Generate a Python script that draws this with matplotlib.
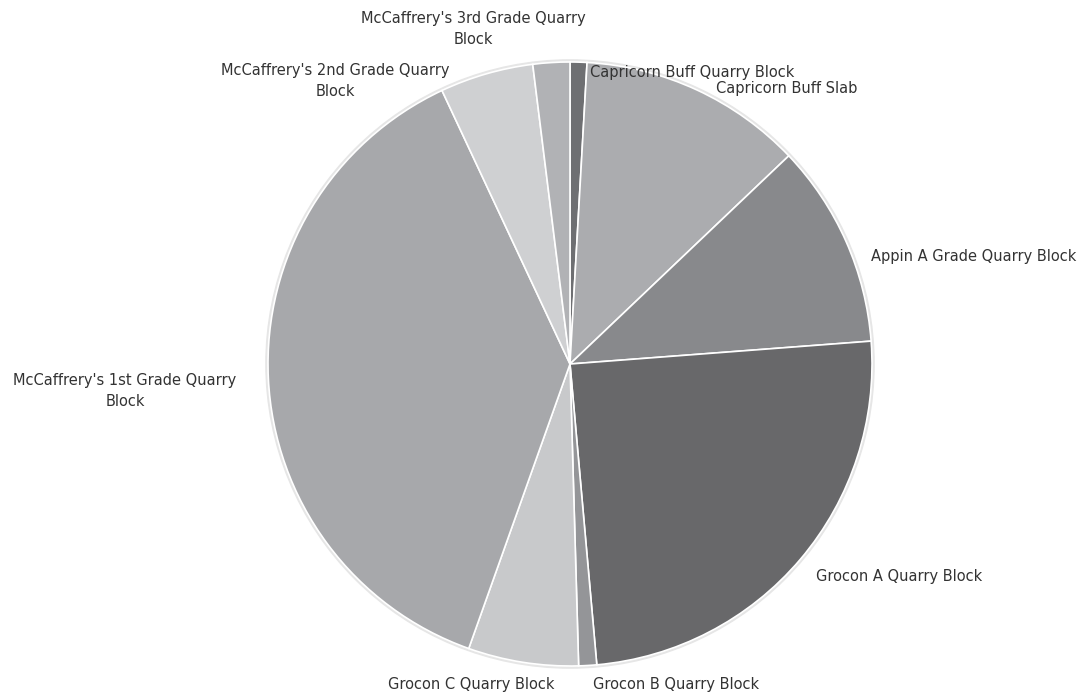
import matplotlib
matplotlib.use("Agg")
import matplotlib.pyplot as plt
from matplotlib.patches import Circle

labels = ["Capricorn Buff Quarry Block", "Capricorn Buff Slab", "Appin A Grade Quarry Block",
          "Grocon A Quarry Block", "Grocon B Quarry Block", "Grocon C Quarry Block",
          "McCaffrery's 1st Grade Quarry\nBlock", "McCaffrery's 2nd Grade Quarry\nBlock",
          "McCaffrery's 3rd Grade Quarry\nBlock"]
values = [0.9, 12.0, 10.9, 24.8, 0.96, 5.9, 37.6, 5.0, 1.97]
colors = ["#6e6f72", "#abacaf", "#88898c", "#68686a", "#949598", "#c8c9cb",
          "#a7a8ab", "#cfd0d2", "#b1b2b5"]

# label anchor positions (pixels) and alignment
label_pos = [(590, 73, "left"), (716, 88, "left"), (871, 257, "left"), (816, 577, "left"),
             (593, 685, "left"), (471, 685, "center"), (125, 391, "center"),
             (335, 81, "center"), (473, 29, "center")]

W, H = 1090, 693
cx, cy, R = 570, 364, 302

fig = plt.figure(figsize=(W / 100, H / 100), dpi=100)
ax = fig.add_axes([0, 0, 1, 1])
ax.axis("off")

ax.add_patch(Circle((0, 0), 1.007, color="#e6e6e6", zorder=0))
ax.pie(values, colors=colors, startangle=90, counterclock=False, radius=1,
       wedgeprops=dict(edgecolor="white", linewidth=1.2), frame=False)
ax.set_xlim(-cx / R, (W - cx) / R)
ax.set_ylim((cy - H) / R, cy / R)
ax.set_aspect("auto")

for lab, (px, py, ha) in zip(labels, label_pos):
    ax.text((px - cx) / R, (cy - py) / R, lab, ha=ha, va="center", fontsize=10.5,
            color="#333333", family="DejaVu Sans", linespacing=1.45,
            multialignment="center")

fig.savefig("out.png", dpi=100)
